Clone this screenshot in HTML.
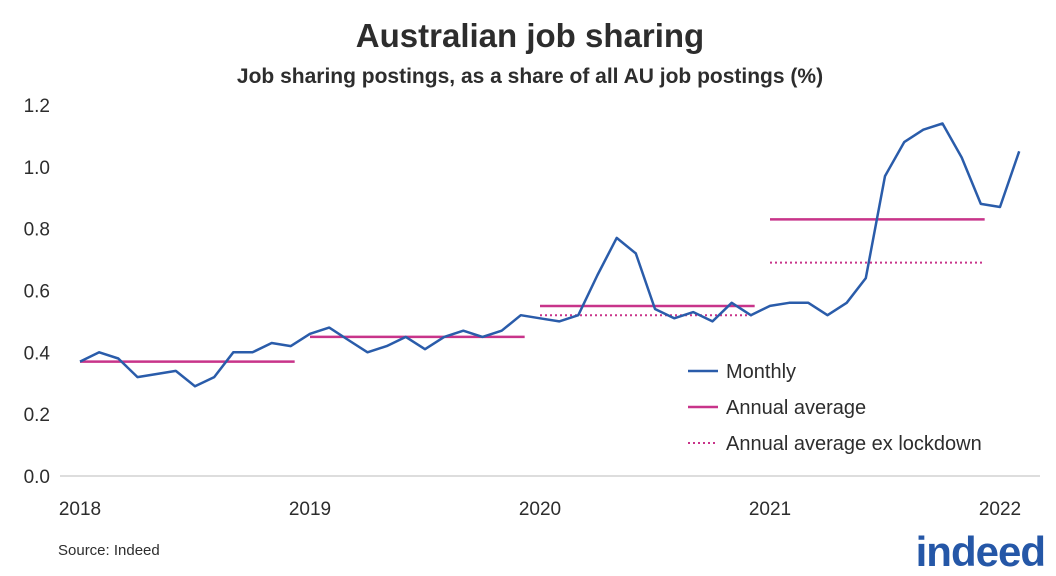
<!DOCTYPE html>
<html><head><meta charset="utf-8"><style>
html,body{margin:0;padding:0;background:#fff;}
svg{display:block;font-family:"Liberation Sans",sans-serif;}
</style></head><body>
<svg id="chart" width="1056" height="576" viewBox="0 0 1056 576">
<text x="530" y="47" text-anchor="middle" font-size="33" font-weight="bold" fill="#2d2d2d">Australian job sharing</text>
<text x="530" y="83" text-anchor="middle" font-size="21" font-weight="bold" fill="#2d2d2d">Job sharing postings, as a share of all AU job postings (%)</text>
<g id="yaxis"></g>
<g id="xaxis"></g>
<g id="avgs"></g>
<path id="monthly" fill="none" stroke="#2a5caa" stroke-width="2.5" stroke-linejoin="round"/>
<g>
<line x1="688" y1="371" x2="718" y2="371" stroke="#2a5caa" stroke-width="2.5"/>
<text x="726" y="378" font-size="20" fill="#2d2d2d">Monthly</text>
<line x1="688" y1="407" x2="718" y2="407" stroke="#c8348a" stroke-width="2.5"/>
<text x="726" y="414" font-size="20" fill="#2d2d2d">Annual average</text>
<line x1="688" y1="443" x2="718" y2="443" stroke="#c8348a" stroke-width="2" stroke-dasharray="2 3"/>
<text x="726" y="450" font-size="20" fill="#2d2d2d">Annual average ex lockdown</text>
</g>
<text x="58" y="555" font-size="15" fill="#2d2d2d">Source: Indeed</text>
<text x="1045" y="566" text-anchor="end" font-size="42" font-weight="bold" fill="#2557a7" letter-spacing="-1">indeed</text>
</svg>
<script>
const yTicks=[0,0.2,0.4,0.6,0.8,1.0,1.2];
const yearLabels=["2018","2019","2020","2021","2022"];
const monthly=[0.37,0.40,0.38,0.32,0.33,0.34,0.29,0.32,0.40,0.40,0.43,0.42,
0.46,0.48,0.44,0.40,0.42,0.45,0.41,0.45,0.47,0.45,0.47,0.52,
0.51,0.50,0.52,0.65,0.77,0.72,0.54,0.51,0.53,0.50,0.56,0.52,
0.55,0.56,0.56,0.52,0.56,0.64,0.97,1.08,1.12,1.14,1.03,0.88,
0.87,1.05];
const annualYears=[0,1,2,3];
const annualAvg=[0.37,0.45,0.55,0.83];
const exYears=[2,3];
const exLockdown=[0.52,0.69];
const NS="http://www.w3.org/2000/svg";
const y=v=>476-v*309.2;
const x=m=>80+m*230/12;
function mk(tag,attrs,parent){const e=document.createElementNS(NS,tag);for(const k in attrs)e.setAttribute(k,attrs[k]);parent.appendChild(e);return e;}
const ya=document.getElementById('yaxis');
yTicks.forEach(t=>{const e=mk('text',{x:50,y:y(t)+7,'text-anchor':'end','font-size':19,fill:'#2d2d2d'},ya);


e.textContent=t.toFixed(1);});
const xa=document.getElementById('xaxis');
const base=mk('line',{x1:60,x2:1040,y1:y(0),y2:y(0),stroke:'#bbb','stroke-width':1},xa);


yearLabels.forEach((l,i)=>{const e=mk('text',{x:x(i*12),y:515,'text-anchor':'middle','font-size':19,fill:'#2d2d2d'},xa);


e.textContent=l;});
const av=document.getElementById('avgs');
annualYears.forEach((yr,i)=>{const l=mk('line',{x1:x(yr*12),x2:x(yr*12+11.2),y1:y(annualAvg[i]),y2:y(annualAvg[i]),stroke:'#c8348a','stroke-width':2.5},av);

});
exYears.forEach((yr,i)=>{const l=mk('line',{x1:x(yr*12),x2:x(yr*12+11.2),y1:y(exLockdown[i]),y2:y(exLockdown[i]),stroke:'#c8348a','stroke-width':2,'stroke-dasharray':'2 3'},av);

});
document.getElementById('monthly').setAttribute('d',monthly.map((v,i)=>(i?'L':'M')+x(i).toFixed(1)+' '+y(v).toFixed(1)).join(' '));
</script>
</body></html>
